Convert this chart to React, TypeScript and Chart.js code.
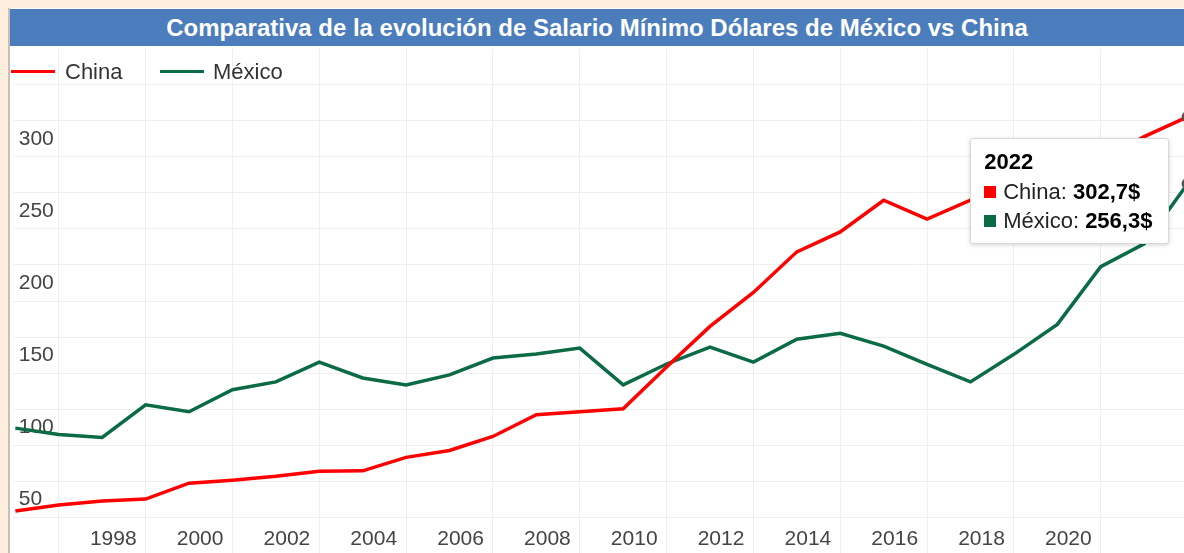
import React, { useEffect, useRef } from "react";
import { Chart, registerables } from "chart.js";

Chart.register(...registerables);

// ---------- Data ----------
const chartTitle = "Comparativa de la evolución de Salario Mínimo Dólares de México vs China";
const years = [
  1995, 1996, 1997, 1998, 1999, 2000, 2001, 2002, 2003, 2004, 2005, 2006, 2007, 2008,
  2009, 2010, 2011, 2012, 2013, 2014, 2015, 2016, 2017, 2018, 2019, 2020, 2021, 2022,
];
const chinaValues = [
  29.3, 33.4, 36.2, 37.6, 48.6, 50.7, 53.4, 56.9, 57.2, 66.5, 71.3, 81.0, 96.1, 98.2,
  100.3, 129.2, 157.4, 180.9, 209.1, 222.9, 244.9, 231.8, 244.9, 253.0, 262.0, 272.0, 289.0, 302.7,
];
const mexicoValues = [
  86.8, 82.4, 80.3, 103.0, 98.2, 113.4, 118.9, 132.6, 121.6, 116.8, 123.7, 135.4, 138.2, 142.3,
  116.8, 131.3, 143.0, 132.6, 148.5, 152.6, 143.7, 131.0, 118.9, 138.0, 158.8, 198.8, 214.6, 256.3,
];
const seriesNames = ["China", "México"];
const seriesColors = ["#ff0000", "#0b6b45"];
const xGridYears = [1996, 1998, 2000, 2002, 2004, 2006, 2008, 2010, 2012, 2014, 2016, 2018, 2020, 2022];
const xTickLabels = ["1998", "2000", "2002", "2004", "2006", "2008", "2010", "2012", "2014", "2016", "2018", "2020"];
const yGridValues = [25, 50, 75, 100, 125, 150, 175, 200, 225, 250, 275, 300, 325];
const yTickLabels = ["50", "100", "150", "200", "250", "300"];

const FONT = 'Arial, "Liberation Sans", Helvetica, sans-serif';
const CANVAS_LEFT = 11;
const CANVAS_TOP = 47;
const CANVAS_W = 1210;
const CANVAS_H = 508;

function formatValue(v: number): string {
  return v.toFixed(1).replace(".", ",") + "$";
}

function zeroHorizontal(scale: any) {
  scale.height = 0;
  scale.paddingLeft = 0;
  scale.paddingRight = 0;
  scale.paddingTop = 0;
  scale.paddingBottom = 0;
}

function zeroVertical(scale: any) {
  scale.width = 0;
  scale.paddingLeft = 0;
  scale.paddingRight = 0;
  scale.paddingTop = 0;
  scale.paddingBottom = 0;
}

export default function App() {
  const canvasRef = useRef<HTMLCanvasElement>(null);
  const tipRef = useRef<HTMLDivElement>(null);

  useEffect(() => {
    const prevMargin = document.body.style.margin;
    document.body.style.margin = "0";
    const canvas = canvasRef.current;
    if (!canvas) return;

    const seriesData = [chinaValues, mexicoValues];

    const chart = new Chart(canvas, {
      type: "line",
      data: {
        datasets: seriesNames.map((name, s) => ({
          label: name,
          data: years.map((yr, i) => ({ x: yr, y: seriesData[s][i] })),
          borderColor: seriesColors[s],
          backgroundColor: seriesColors[s],
          borderWidth: 3.5,
          pointRadius: 0,
          pointHoverRadius: 5,
          pointHoverBorderWidth: 2,
          pointHoverBorderColor: "#555",
          pointHoverBackgroundColor: seriesColors[s],
          tension: 0,
          fill: false,
          xAxisID: "x",
          yAxisID: "y",
        })),
      },
      options: {
        responsive: false,
        animation: false,
        events: [],
        layout: { padding: 0 },
        plugins: {
          legend: { display: false },
          title: { display: false },
          tooltip: {
            enabled: false,
            external: ({ tooltip }: any) => {
              const el = tipRef.current;
              if (!el) return;
              if (!tooltip || tooltip.opacity === 0 || !tooltip.dataPoints || !tooltip.dataPoints.length) {
                el.style.display = "none";
                return;
              }
              el.replaceChildren();
              const title = document.createElement("div");
              title.textContent = String(tooltip.dataPoints[0].parsed.x);
              title.style.fontWeight = "bold";
              title.style.lineHeight = "30px";
              title.style.color = "#000";
              el.appendChild(title);
              tooltip.dataPoints.forEach((dp: any) => {
                const row = document.createElement("div");
                row.style.lineHeight = "29px";
                row.style.display = "flex";
                row.style.alignItems = "center";
                const sq = document.createElement("span");
                sq.style.display = "inline-block";
                sq.style.width = "12px";
                sq.style.height = "12px";
                sq.style.marginRight = "7px";
                sq.style.background = dp.dataset.borderColor;
                const lab = document.createElement("span");
                lab.textContent = dp.dataset.label + ":\u00a0";
                lab.style.color = "#222";
                const val = document.createElement("span");
                val.textContent = formatValue(dp.parsed.y);
                val.style.fontWeight = "bold";
                val.style.color = "#000";
                row.appendChild(sq);
                row.appendChild(lab);
                row.appendChild(val);
                el.appendChild(row);
              });
              el.style.display = "block";
              el.style.left = CANVAS_LEFT + tooltip.caretX - 219 + "px";
              el.style.top = CANVAS_TOP + tooltip.caretY - 11 + "px";
            },
          },
        },
        scales: {
          x: {
            type: "linear",
            position: "bottom",
            min: 1994.94,
            max: 2022.73,
            afterBuildTicks: (scale: any) => {
              scale.ticks = xGridYears.map((v) => ({ value: v }));
            },
            afterFit: zeroHorizontal,
            border: { display: false },
            grid: { color: "#efefef", lineWidth: 1, drawTicks: false },
            ticks: {
              mirror: true,
              padding: 1,
              align: "end",
              labelOffset: -9,
              autoSkip: false,
              maxRotation: 0,
              color: "#444",
              font: { family: FONT, size: 21 },
              callback: (value: any) => (xTickLabels.includes(String(value)) ? String(value) : ""),
            },
          },
          yGrid: {
            type: "linear",
            position: "left",
            min: 0,
            max: 350,
            afterBuildTicks: (scale: any) => {
              scale.ticks = yGridValues.map((v) => ({ value: v }));
            },
            afterFit: zeroVertical,
            border: { display: false },
            grid: { color: "#efefef", lineWidth: 1, drawTicks: false },
            ticks: { display: false, padding: 0 },
          },
          y: {
            type: "linear",
            position: "left",
            min: 0,
            max: 350,
            z: 1,
            afterBuildTicks: (scale: any) => {
              scale.ticks = yTickLabels.map((v) => ({ value: Number(v) }));
            },
            afterFit: zeroVertical,
            border: { display: false },
            grid: { display: false, drawTicks: false },
            ticks: {
              mirror: true,
              padding: 6,
              labelOffset: 18,
              showLabelBackdrop: true,
              backdropColor: "#ffffff",
              backdropPadding: { top: 0, bottom: 0, left: 2, right: 2 },
              color: "#444",
              font: { family: FONT, size: 21, lineHeight: "16px" },
              callback: (value: any) => (yTickLabels.includes(String(value)) ? String(value) : ""),
            },
          },
        },
      } as any,
    });

    const last = years.length - 1;
    const active = [
      { datasetIndex: 0, index: last },
      { datasetIndex: 1, index: last },
    ];
    chart.setActiveElements(active);
    const m0 = chart.getDatasetMeta(0).data[last] as any;
    const m1 = chart.getDatasetMeta(1).data[last] as any;
    chart.tooltip?.setActiveElements(active, { x: m0.x, y: (m0.y + m1.y) / 2 });
    chart.update();

    return () => {
      chart.destroy();
      document.body.style.margin = prevMargin;
    };
  }, []);

  const legendItem = (i: number, lineLeft: number, textLeft: number) => (
    <React.Fragment key={seriesNames[i]}>
      <div
        style={{
          position: "absolute",
          left: lineLeft,
          top: 70,
          width: 44,
          height: 3,
          background: seriesColors[i],
        }}
      />
      <div
        style={{
          position: "absolute",
          left: textLeft,
          top: 58,
          height: 28,
          lineHeight: "28px",
          fontFamily: FONT,
          fontSize: 22,
          color: "#333",
          whiteSpace: "nowrap",
        }}
      >
        {seriesNames[i]}
      </div>
    </React.Fragment>
  );

  return (
    <div
      style={{
        position: "fixed",
        left: 0,
        top: 0,
        width: 1184,
        height: 553,
        overflow: "hidden",
        background: "#fdeedd",
      }}
    >
      <div
        style={{
          position: "absolute",
          left: 8,
          top: 8,
          width: 1200,
          height: 600,
          background: "#ffffff",
          borderLeft: "2px solid #c8bfb6",
        }}
      />
      <div
        style={{
          position: "absolute",
          left: 10,
          top: 9,
          width: 1174,
          height: 37,
          background: "#4b7dbd",
          color: "#ffffff",
          fontFamily: FONT,
          fontWeight: "bold",
          fontSize: 24,
          lineHeight: "37px",
          textAlign: "center",
          whiteSpace: "nowrap",
        }}
      >
        {chartTitle}
      </div>
      <canvas
        ref={canvasRef}
        width={CANVAS_W}
        height={CANVAS_H}
        style={{
          position: "absolute",
          left: CANVAS_LEFT,
          top: CANVAS_TOP,
          width: CANVAS_W,
          height: CANVAS_H,
          display: "block",
        }}
      />
      {legendItem(0, 11, 65)}
      {legendItem(1, 160, 213)}
      <div
        ref={tipRef}
        style={{
          position: "absolute",
          display: "none",
          background: "#ffffff",
          border: "1px solid #d9d9d9",
          borderRadius: 3,
          boxShadow: "0 1px 4px rgba(0,0,0,0.18)",
          padding: "8px 16px 8px 13px",
          fontFamily: FONT,
          fontSize: 22,
          color: "#222",
          whiteSpace: "nowrap",
        }}
      />
    </div>
  );
}
